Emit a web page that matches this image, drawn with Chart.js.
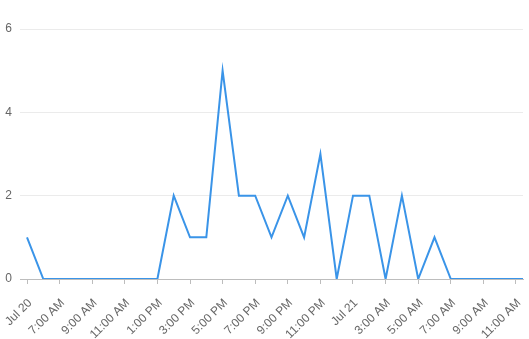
<!DOCTYPE html>
<html>
<head>
<meta charset="utf-8">
<script src="https://cdn.jsdelivr.net/npm/chart.js@4/dist/chart.umd.min.js"></script>
<style>
  html, body { margin: 0; padding: 0; background: #fff; }
  #wrap { width: 529px; height: 339px; }
</style>
</head>
<body>
<div id="wrap"><canvas id="c" width="529" height="339"></canvas></div>
<script>
// Hours since Jul 20, 5:00 AM
const hours = [0,1,2,3,4,5,6,7,8,9,10,11,12,13,14,15,16,17,18,19,20,21,22,23,24,25,26,27,28,29,30,31];
const counts = [1,0,0,0,0,0,0,0,0,2,1,1,5,2,2,1,2,1,3,0,2,2,0,2,0,1,0,0,0,0,0,0];
const tickHours = [0,2,4,6,8,10,12,14,16,18,20,22,24,26,28,30];
const tickLabels = ['Jul 20','7:00 AM','9:00 AM','11:00 AM','1:00 PM','3:00 PM','5:00 PM','7:00 PM','9:00 PM','11:00 PM','Jul 21','3:00 AM','5:00 AM','7:00 AM','9:00 AM','11:00 AM'];
const yTicks = [0,2,4,6];

Chart.defaults.font.family = '"Liberation Sans", Arial, sans-serif';
Chart.defaults.font.size = 12;
Chart.defaults.color = '#666';

new Chart(document.getElementById('c'), {
  type: 'line',
  data: {
    datasets: [{
      data: hours.map((h, i) => ({ x: h, y: counts[i] })),
      borderColor: '#3a94e8',
      borderWidth: 2,
      pointRadius: 0,
      fill: false,
      tension: 0
    }]
  },
  options: {
    responsive: false,
    animation: false,
    layout: { padding: { top: 29, right: 6, left: 0, bottom: 0 } },
    plugins: { legend: { display: false }, tooltip: { enabled: false } },
    scales: {
      x: {
        type: 'linear',
        min: -0.43,
        max: 30.43,
        afterBuildTicks: s => { s.ticks = tickHours.map(v => ({ value: v })); },
        afterFit: s => { s.height = 60; s.paddingLeft = 0; s.paddingRight = 0; },
        grid: { drawOnChartArea: false, drawTicks: true, tickLength: 5, color: '#bdbdbd' },
        border: { color: '#bdbdbd' },
        ticks: {
          minRotation: 45, maxRotation: 45, autoSkip: false, padding: 12, labelOffset: 3,
          callback: (v) => { const i = tickHours.indexOf(v); return i >= 0 ? tickLabels[i] : ''; }
        }
      },
      y: {
        min: 0, max: 6,
        afterBuildTicks: s => { s.ticks = yTicks.map(v => ({ value: v })); },
        afterFit: s => { s.width = 20; s.paddingTop = 0; s.paddingBottom = 0; },
        grid: { drawTicks: false, color: '#ebebeb' },
        border: { display: false },
        ticks: { padding: 8 }
      }
    }
  }
});
</script>
</body>
</html>
